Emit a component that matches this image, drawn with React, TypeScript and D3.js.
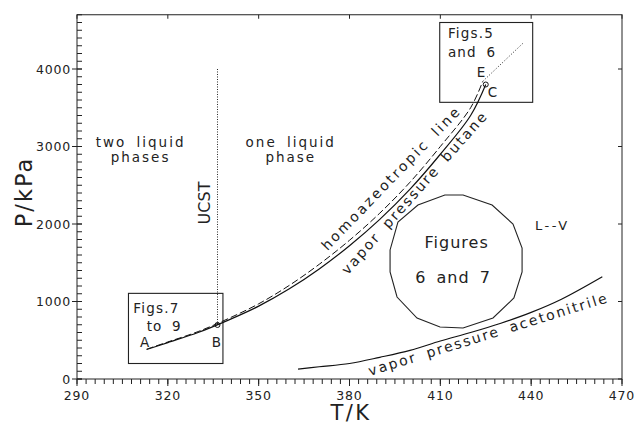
import React from 'react';
import * as d3 from 'd3';

// n-butane vapour pressure (solid)
const butaneT = [313, 320, 330, 340, 350, 360, 370, 380, 390, 400, 410, 420, 425];
const butaneP = [380, 470, 600, 760, 940, 1160, 1420, 1720, 2060, 2450, 2900, 3400, 3800];

// homoazeotropic line (dashed), ends at E
const homoT = [313, 320, 330, 340, 350, 360, 370, 380, 390, 400, 410, 420, 424];
const homoP = [385, 478, 612, 780, 970, 1205, 1480, 1790, 2140, 2540, 3000, 3500, 3840];

// dotted continuation beyond E
const extT = [424, 437.5];
const extP = [3840, 4340];

// acetonitrile vapour pressure
const acnT = [363, 370, 380, 390, 400, 410, 420, 430, 440, 450, 463.5];
const acnP = [128, 158, 200, 280, 370, 490, 600, 720, 860, 1030, 1320];

// "Figures 6 and 7" region
const polyT = [411.5, 417.5, 427.1, 434.0, 437.0, 437.0, 434.3, 427.4, 417.5, 409.9, 402.3, 395.7, 393.4, 393.4, 396.0, 402.6];
const polyP = [2374, 2374, 2245, 2000, 1690, 1381, 1045, 787, 658, 671, 787, 1058, 1381, 1665, 2026, 2245];

// UCST
const ucstT = 336.4;
const ucstP = [697, 4000];

// boxes [Tmin, Tmax, Pmin, Pmax]
const boxLow = [307, 338.2, 200, 1105];
const boxHigh = [409.8, 440.5, 3570, 4600];

// points B and C
const markT = [336.4, 425];
const markP = [697, 3800];

const xMajor = [290, 320, 350, 380, 410, 440, 470];
const yMajor = [0, 1000, 2000, 3000, 4000];

const labels = [
  { t: 'two liquid', T: 311, P: 2997, size: 13.5, ls: 2, anchor: 'middle' },
  { t: 'phases', T: 311, P: 2804, size: 13.5, ls: 2, anchor: 'middle' },
  { t: 'one liquid', T: 360.6, P: 2997, size: 13.5, ls: 2, anchor: 'middle' },
  { t: 'phase', T: 360.6, P: 2804, size: 13.5, ls: 2, anchor: 'middle' },
  { t: 'Figs.7', T: 308.6, P: 848, size: 13.5, ls: 1.2, anchor: 'start' },
  { t: 'to 9', T: 313, P: 623, size: 13.5, ls: 1.2, anchor: 'start' },
  { t: 'A', T: 310.8, P: 417, size: 13.5, ls: 0, anchor: 'start' },
  { t: 'B', T: 334.5, P: 417, size: 13.5, ls: 0, anchor: 'start' },
  { t: 'Figs.5', T: 412.5, P: 4396, size: 13.5, ls: 1.2, anchor: 'start' },
  { t: 'and 6', T: 412.5, P: 4151, size: 13.5, ls: 1.2, anchor: 'start' },
  { t: 'E', T: 422, P: 3893, size: 13.5, ls: 0, anchor: 'start' },
  { t: 'C', T: 425.7, P: 3643, size: 13.5, ls: 0, anchor: 'start' },
  { t: 'Figures', T: 415.4, P: 1686, size: 16, ls: 1, anchor: 'middle' },
  { t: '6 and 7', T: 414.2, P: 1235, size: 16, ls: 1, anchor: 'middle' },
  { t: 'L--V', T: 441.3, P: 1923, size: 13, ls: 2.5, anchor: 'start' },
];

const rotLabels = [
  { t: 'UCST', T: 333.9, P: 2271, angle: -90, size: 16, ls: 0, anchor: 'middle' },
  { t: 'homoazeotropic line', T: 372.7, P: 1650, angle: -46, size: 14, ls: 2.5, anchor: 'start' },
  { t: 'vapor pressure butane', T: 379.4, P: 1335, angle: -48.5, size: 14, ls: 2.2, anchor: 'start' },
  { t: 'vapor pressure acetonitrile', T: 386.8, P: 40, angle: -17.2, size: 14, ls: 2, anchor: 'start' },
];

const W = 636, H = 423;
const font = '"DejaVu Sans", sans-serif';

export default function App() {
  const x = d3.scaleLinear().domain([290, 470]).range([77, 622]);
  const y = d3.scaleLinear().domain([0, 4700]).range([379, 14.75]);

  const line = d3.line<[number, number]>()
    .x(d => x(d[0]))
    .y(d => y(d[1]))
    .curve(d3.curveCatmullRom);

  const zip = (a: number[], b: number[]) => a.map((v, i) => [v, b[i]] as [number, number]);

  const xMinor = d3.range(290, 470.01, 3);
  const yMinor = d3.range(0, 4700.01, 100);

  const poly = zip(polyT, polyP).map(d => `${x(d[0])},${y(d[1])}`).join(' ');

  const box = (b: number[]) => (
    <rect x={x(b[0])} y={y(b[3])} width={x(b[1]) - x(b[0])} height={y(b[2]) - y(b[3])}
      fill="none" stroke="#222" strokeWidth={1.1} />
  );

  return (
    <svg width={W} height={H} style={{ position: 'absolute', left: 0, top: 0, background: '#fff' }}
      fontFamily={font} fill="#222">
      {/* frame */}
      <rect x={x(290)} y={y(4700)} width={x(470) - x(290)} height={y(0) - y(4700)}
        fill="none" stroke="#222" strokeWidth={1} />

      {/* bottom ticks */}
      {xMinor.map((v, i) => (
        <line key={'xm' + i} x1={x(v)} x2={x(v)} y1={y(0)} y2={y(0) + 5} stroke="#222" />
      ))}
      {xMajor.map(v => (
        <g key={'xM' + v}>
          <line x1={x(v)} x2={x(v)} y1={y(0)} y2={y(0) + 7} stroke="#222" />
          <line x1={x(v)} x2={x(v)} y1={y(4700)} y2={y(4700) + 4} stroke="#222" />
          <text x={x(v)} y={399.5} textAnchor="middle" fontSize={12.5}
            style={{ letterSpacing: '0.8px' }}>{v}</text>
        </g>
      ))}

      {/* left ticks */}
      {yMinor.map((v, i) => (
        <line key={'ym' + i} x1={x(290)} x2={x(290) + 5} y1={y(v)} y2={y(v)} stroke="#222" />
      ))}
      {yMajor.map(v => (
        <g key={'yM' + v}>
          <line x1={x(290) - 5} x2={x(290) + 5} y1={y(v)} y2={y(v)} stroke="#222" />
          <line x1={x(470) - 4} x2={x(470)} y1={y(v)} y2={y(v)} stroke="#222" />
          <text x={71} y={y(v)} dy="0.36em" textAnchor="end" fontSize={12.5}
            style={{ letterSpacing: '0.8px' }}>{v}</text>
        </g>
      ))}

      {/* axis titles */}
      <text x={351} y={419.5} textAnchor="middle" fontSize={21} style={{ letterSpacing: '2.5px' }}>T/K</text>
      <text transform={`translate(32,192) rotate(-90)`} textAnchor="middle" fontSize={22.5}
        style={{ letterSpacing: '2px' }}>P/kPa</text>

      {/* boxes */}
      {box(boxLow)}
      {box(boxHigh)}

      {/* UCST */}
      <line x1={x(ucstT)} x2={x(ucstT)} y1={y(ucstP[0])} y2={y(ucstP[1])}
        stroke="#222" strokeWidth={1} strokeDasharray="1,1.5" />

      {/* curves */}
      <path d={line(zip(butaneT, butaneP)) || ''} fill="none" stroke="#111" strokeWidth={1.2} />
      <path d={line(zip(homoT, homoP)) || ''} fill="none" stroke="#111" strokeWidth={1}
        strokeDasharray="7,3" />
      <path d={line(zip(extT, extP)) || ''} fill="none" stroke="#222" strokeWidth={1}
        strokeDasharray="1,2" />
      <path d={line(zip(acnT, acnP)) || ''} fill="none" stroke="#111" strokeWidth={1.2} />

      <polygon points={poly} fill="none" stroke="#222" strokeWidth={1.1} />

      {markT.map((v, i) => (
        <circle key={'mk' + i} cx={x(v)} cy={y(markP[i])} r={2.5} fill="none" stroke="#111" strokeWidth={1} />
      ))}

      {labels.map((l, i) => (
        <text key={'lb' + i} x={x(l.T)} y={y(l.P)} textAnchor={l.anchor as any} fontSize={l.size}
          style={{ letterSpacing: `${l.ls}px`, wordSpacing: '4px' }}>{l.t}</text>
      ))}
      {rotLabels.map((l, i) => (
        <text key={'rl' + i} transform={`translate(${x(l.T)},${y(l.P)}) rotate(${l.angle})`}
          textAnchor={l.anchor as any} fontSize={l.size}
          style={{ letterSpacing: `${l.ls}px`, wordSpacing: '4px' }}>{l.t}</text>
      ))}
    </svg>
  );
}
